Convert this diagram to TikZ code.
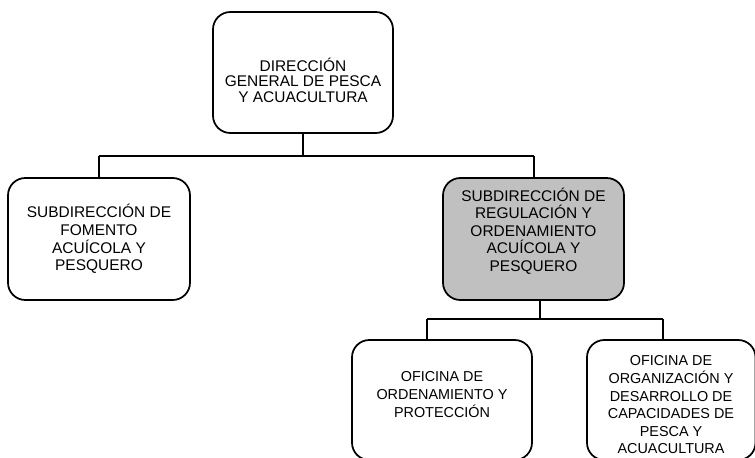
\documentclass[tikz,border=0pt]{standalone}
\usepackage{fontspec}
\setmainfont{Liberation Sans}
\definecolor{boxgray}{RGB}{192,192,192}
\begin{document}
\begin{tikzpicture}[x=0.75pt,y=-0.75pt,
  box/.style={draw=black,line width=1.3pt,rounded corners=13pt,rectangle,inner sep=0pt},
  txt/.style={align=center,inner sep=0pt,font=\fontsize{11.6}{13.2}\selectfont},
  conn/.style={draw=black,line width=1.3pt}]
\useasboundingbox (0,0) rectangle (755,457);
\begin{scope}
\clip (0,0) rectangle (755,457);
\node[box,minimum width=135pt,minimum height=90.75pt] (top) at (303,72.5) {};
\node[box,minimum width=136.5pt,minimum height=91.5pt] (left) at (99,239) {};
\node[box,fill=boxgray,minimum width=135.75pt,minimum height=91.5pt] (gray) at (533.5,239) {};
\node[box,minimum width=135pt,minimum height=90pt] (bl) at (442,400) {};
\node[box,minimum width=126.4pt,minimum height=90pt] (br) at (671.25,400) {};
\end{scope}
\node[txt,font=\fontsize{11.6}{11.6}\selectfont] (ttop) at (303,80) {DIRECCIÓN\\GENERAL DE PESCA\\Y ACUACULTURA};
\node[txt] (tleft) at (99,239) {SUBDIRECCIÓN DE\\FOMENTO\\ACUÍCOLA Y\\PESQUERO};
\node[txt] (tgray) at (533.5,231) {SUBDIRECCIÓN DE\\REGULACIÓN Y\\ORDENAMIENTO\\ACUÍCOLA Y\\PESQUERO};
\node[txt,font=\fontsize{10.8}{13.5}\selectfont] (tbl) at (442,395) {OFICINA DE\\ORDENAMIENTO Y\\PROTECCIÓN};
\node[txt,font=\fontsize{10.8}{13.2}\selectfont] (tbr) at (671,405) {OFICINA DE\\ORGANIZACIÓN Y\\DESARROLLO DE\\CAPACIDADES DE\\PESCA Y\\ACUACULTURA};
% connectors
\coordinate (b1l) at (99,156);
\coordinate (b1r) at (534,156);
\coordinate (b2l) at (427,319);
\coordinate (b2r) at (663,319);
\coordinate (g2) at (540,300);
\draw[conn] (top.south) -- (top.south |- b1l);
\draw[conn] (b1l) -- (b1r);
\draw[conn] (b1l) -- (b1l |- left.north);
\draw[conn] (b1r) -- (b1r |- gray.north);
\draw[conn] (g2 |- gray.south) -- (g2 |- b2l);
\draw[conn] (b2l) -- (b2r);
\draw[conn] (b2l) -- (b2l |- bl.north);
\draw[conn] (b2r) -- (b2r |- br.north);
\end{tikzpicture}
\end{document}
